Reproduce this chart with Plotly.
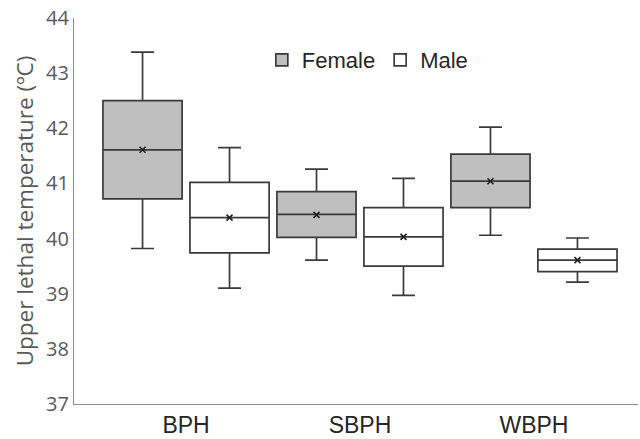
import plotly.graph_objects as go

categories = ["BPH", "SBPH", "WBPH"]

female_lower = [39.82, 39.61, 40.06]
female_q1 = [40.72, 40.02, 40.56]
female_median = [41.61, 40.44, 41.04]
female_q3 = [42.50, 40.85, 41.53]
female_upper = [43.38, 41.26, 42.02]
female_mean = [41.61, 40.43, 41.04]

male_lower = [39.10, 38.97, 39.21]
male_q1 = [39.74, 39.50, 39.40]
male_median = [40.38, 40.03, 39.61]
male_q3 = [41.02, 40.56, 39.81]
male_upper = [41.65, 41.09, 40.01]
male_mean = [40.38, 40.03, 39.61]

y_ticks = [37, 38, 39, 40, 41, 42, 43, 44]

line_col = "#3a3a3a"
fig = go.Figure()

fig.add_trace(go.Box(
    name="Female", x=categories, q1=female_q1, median=female_median, q3=female_q3,
    lowerfence=female_lower, upperfence=female_upper, boxpoints=False,
    fillcolor="#bfbfbf", line=dict(color=line_col, width=1.7), whiskerwidth=0.29,
    offsetgroup="F",
))
fig.add_trace(go.Box(
    name="Male", x=categories, q1=male_q1, median=male_median, q3=male_q3,
    lowerfence=male_lower, upperfence=male_upper, boxpoints=False,
    fillcolor="#ffffff", line=dict(color=line_col, width=1.7), whiskerwidth=0.29,
    offsetgroup="M",
))
fig.add_trace(go.Scatter(
    x=categories, y=female_mean, mode="markers", showlegend=False, offsetgroup="F",
    marker=dict(symbol="x-thin", size=6, line=dict(color="#202020", width=1.6)),
))
fig.add_trace(go.Scatter(
    x=categories, y=male_mean, mode="markers", showlegend=False, offsetgroup="M",
    marker=dict(symbol="x-thin", size=6, line=dict(color="#202020", width=1.6)),
))

fig.update_layout(
    width=640, height=439,
    margin=dict(l=74, r=2, t=18, b=35),
    paper_bgcolor="white", plot_bgcolor="white",
    boxmode="group", boxgap=0.0, boxgroupgap=0.09,
    scattermode="group", scattergap=0.0,
    font=dict(family="Liberation Sans, Arial, sans-serif", color="#333333"),
    legend=dict(orientation="h", x=0.333, y=0.891, xanchor="left", yanchor="middle",
                font=dict(size=22, color="#262626"), bgcolor="rgba(0,0,0,0)",
                itemwidth=30),
    xaxis=dict(type="category", range=[-0.644, 2.598], showline=True,
               linecolor="#8c8c8c", linewidth=1.3, ticks="", showgrid=False,
               zeroline=False, tickfont=dict(size=23, color="#262626")),
    yaxis=dict(range=[37, 44], tickvals=y_ticks, showline=True, linecolor="#8c8c8c",
               linewidth=1.3, ticks="", showgrid=False, zeroline=False,
               tickfont=dict(size=20, color="#595959", family="Open Sans, sans-serif"),
               title=dict(text="Upper lethal temperature (ºC)", standoff=6,
                          font=dict(size=22.5, color="#595959", family="Open Sans, sans-serif"))),
)

fig.write_html("out.html")
